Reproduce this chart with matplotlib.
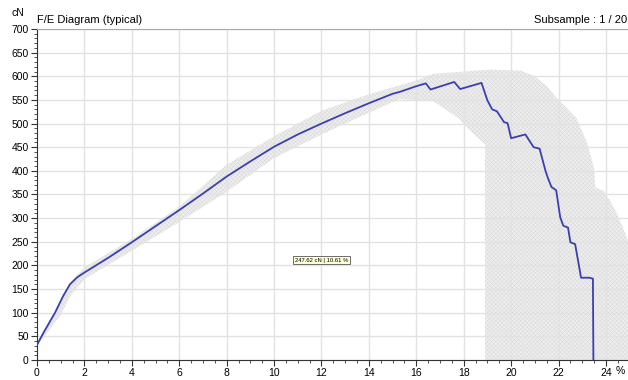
import matplotlib
matplotlib.use("Agg")
import matplotlib.pyplot as plt
import numpy as np
from matplotlib.ticker import MultipleLocator

# typical curve (elongation %, force cN)
elong = [0, 0.3, 0.76, 1.1, 1.39, 1.7, 2, 3, 4, 5, 6, 7, 8, 9, 10, 11, 12, 13, 14, 15,
         15.3, 16, 16.4, 16.6, 17.6, 17.85, 18.75, 19.0, 19.2, 19.4, 19.7, 19.85, 20.0,
         20.6, 20.95, 21.2, 21.45, 21.55, 21.7, 21.9, 22.07, 22.2, 22.4, 22.5, 22.7,
         22.95, 23.3, 23.45, 23.47]
force = [32, 60, 100, 135, 160, 175, 185, 216, 249, 283, 317, 352, 388, 420, 451, 477,
         500, 522, 543, 563, 567, 579, 585, 572, 588, 573, 586, 549, 530, 526, 503, 501,
         469, 477, 450, 447, 400, 385, 366, 359, 302, 284, 280, 249, 245, 174, 174, 172, 0]

# envelope of all subsamples
env_up_x = [0, 1, 1.4, 2, 4, 6, 8, 10, 12, 14, 16, 16.7, 18, 19.1, 20.4, 20.95, 21.5,
            21.9, 22.3, 22.75, 23.2, 23.5, 23.55, 23.9, 24.2, 24.5, 24.85, 24.93]
env_up_y = [35, 125, 165, 196, 256, 324, 413, 473, 527, 562, 591, 605, 610, 614, 612,
            601, 580, 555, 535, 512, 460, 405, 365, 358, 334, 306, 263, 250]
env_lo_x = [0, 1, 1.4, 2, 4, 6, 8, 10, 12, 14, 15.3, 16.7, 17.85, 18.0, 18.9, 18.9, 24.93]
env_lo_y = [30, 95, 135, 171, 231, 292, 356, 427, 477, 523, 552, 548, 509, 498, 456, 0, 0]

plt.rcParams["font.family"] = ["Liberation Sans", "DejaVu Sans"]
plt.rcParams["hatch.linewidth"] = 0.3

fig = plt.figure(figsize=(6.28, 3.80), dpi=100)
ax = fig.add_axes([37 / 628, 20 / 380, (628 - 37) / 628, 331 / 380])

poly_x = np.concatenate([env_up_x, env_lo_x[::-1]])
poly_y = np.concatenate([env_up_y, env_lo_y[::-1]])
ax.fill(poly_x, poly_y, facecolor="#eeeeee", edgecolor="#d6d6d6", hatch="xxxxxxxx",
        linewidth=0, zorder=1)

ax.plot(elong, force, color="#3b3fb0", lw=1.3, zorder=3)

ax.set_xlim(0, 24.93)
ax.set_ylim(0, 700)
ax.xaxis.set_major_locator(MultipleLocator(2))
ax.xaxis.set_minor_locator(MultipleLocator(0.5))
ax.yaxis.set_major_locator(MultipleLocator(50))
ax.yaxis.set_minor_locator(MultipleLocator(10))
ax.grid(True, which="major", color="#e2e2e2", lw=1)

ax.tick_params(which="both", direction="out", labelsize=7.5, color="#333333", pad=2)
ax.tick_params(which="major", length=4)
ax.tick_params(which="minor", length=2.5)
ax.spines["right"].set_visible(False)
ax.spines["top"].set_color("#a8a8a8")
ax.spines["left"].set_color("#333333")
ax.spines["bottom"].set_color("#333333")

fig.text(18 / 628, 1 - 13 / 380, "cN", fontsize=7.5, ha="center", va="center")
ax.text(0.0, 1.012, "F/E Diagram (typical)", transform=ax.transAxes, fontsize=8,
        ha="left", va="bottom")
ax.text(0.999, 1.012, "Subsample : 1 / 20", transform=ax.transAxes, fontsize=8,
        ha="right", va="bottom")
fig.text(620 / 628, 1 - 371 / 380, "%", fontsize=7.5, ha="center", va="center")

ax.text(12.0, 211, "247.62 cN | 10.61 %", fontsize=4.2, ha="center", va="center",
        bbox=dict(boxstyle="square,pad=0.25", fc="#ffffd8", ec="#555555", lw=0.6),
        zorder=5)

fig.savefig("out.png", dpi=100)
